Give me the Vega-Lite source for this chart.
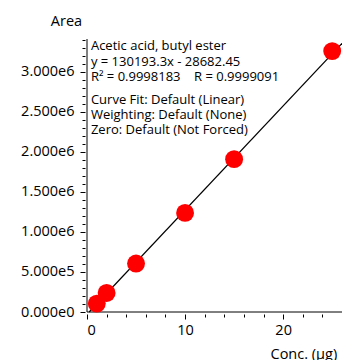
{
  "$schema": "https://vega.github.io/schema/vega-lite/v6.json",
  "width": 255,
  "height": 273,
  "autosize": {"type": "none"},
  "padding": {"left": 87, "top": 39, "right": 0, "bottom": 48},
  "background": "white",
  "config": {
    "view": {"stroke": null},
    "font": "Open Sans",
    "axis": {
      "domain": false,
      "grid": false,
      "offset": 2,
      "tickColor": "black",
      "tickWidth": 1,
      "labelFont": "Open Sans",
      "labelFontSize": 14.5,
      "labelColor": "black",
      "titleFont": "Open Sans",
      "titleFontSize": 14.5,
      "titleFontWeight": "normal",
      "titleColor": "black"
    }
  },
  "datasets": {
    "standards": [
      {"conc": 1, "area": 105000},
      {"conc": 2, "area": 238000},
      {"conc": 5, "area": 605000},
      {"conc": 10, "area": 1238000},
      {"conc": 15, "area": 1909000},
      {"conc": 25, "area": 3259000}
    ],
    "fit": [
      {"conc": 0.2203, "area": 0},
      {"conc": 26, "area": 3356343}
    ]
  },
  "resolve": {"axis": {"x": "independent", "y": "independent"}},
  "layer": [
    {
      "data": {"values": [{}]},
      "mark": {"type": "rule", "color": "black", "strokeWidth": 1},
      "encoding": {
        "x": {
          "datum": 0,
          "type": "quantitative",
          "scale": {"domain": [0, 26], "nice": false, "zero": false},
          "axis": {
            "orient": "bottom",
            "values": [2, 4, 6, 8, 12, 14, 16, 18, 22, 24],
            "tickSize": 3,
            "labels": false,
            "title": null
          }
        }
      }
    },
    {
      "data": {"values": [{}]},
      "mark": {"type": "rule", "color": "black", "strokeWidth": 1},
      "encoding": {
        "y": {
          "datum": 0,
          "type": "quantitative",
          "scale": {"domain": [0, 3410000], "nice": false, "zero": false},
          "axis": {
            "orient": "left",
            "values": [100000, 200000, 300000, 400000, 600000, 700000, 800000, 900000, 1100000, 1200000, 1300000, 1400000, 1600000, 1700000, 1800000, 1900000, 2100000, 2200000, 2300000, 2400000, 2600000, 2700000, 2800000, 2900000, 3100000, 3200000, 3300000, 3400000],
            "tickSize": 3,
            "labels": false,
            "title": null
          }
        }
      }
    },
    {
      "data": {"name": "fit"},
      "mark": {"type": "line", "color": "black", "strokeWidth": 1.2},
      "encoding": {
        "x": {"field": "conc", "type": "quantitative", "axis": null},
        "y": {"field": "area", "type": "quantitative", "axis": null}
      }
    },
    {
      "data": {"name": "standards"},
      "mark": {"type": "point", "shape": "circle", "filled": true, "color": "#ff0000", "opacity": 1, "size": 320},
      "encoding": {
        "x": {
          "field": "conc",
          "type": "quantitative",
          "axis": {
            "orient": "bottom",
            "values": [0, 10, 20],
            "tickSize": 5,
            "labelPadding": 4,
            "title": "Conc. (μg)",
            "titleAlign": "left",
            "titleBaseline": "middle",
            "titleAnchor": null,
            "titleX": 183,
            "titleY": 40
          }
        },
        "y": {
          "field": "area",
          "type": "quantitative",
          "axis": {
            "orient": "left",
            "values": [0, 500000, 1000000, 1500000, 2000000, 2500000, 3000000],
            "tickSize": 5,
            "labelPadding": 6,
            "labelExpr": "replace(format(datum.value, '.3e'), '+', '')",
            "title": "Area",
            "titleAngle": 0,
            "titleAlign": "center",
            "titleBaseline": "middle",
            "titleAnchor": null,
            "titleX": -19,
            "titleY": -18
          }
        }
      }
    },
    {
      "data": {"values": [{"note": ["Acetic acid, butyl ester", "y = 130193.3x - 28682.45", "R² = 0.9998183\u00a0\u00a0\u00a0\u00a0R = 0.9999091"]}]},
      "mark": {"type": "text", "align": "left", "baseline": "middle", "fontSize": 13, "lineHeight": 15.5, "color": "black"},
      "encoding": {
        "text": {"field": "note"},
        "x": {"datum": 0.4, "type": "quantitative", "axis": null},
        "y": {"datum": 3322000, "type": "quantitative", "axis": null}
      }
    },
    {
      "data": {"values": [{"note": ["Curve Fit: Default (Linear)", "Weighting: Default (None)", "Zero: Default (Not Forced)"]}]},
      "mark": {"type": "text", "align": "left", "baseline": "middle", "fontSize": 13, "lineHeight": 15, "color": "black"},
      "encoding": {
        "text": {"field": "note"},
        "x": {"datum": 0.4, "type": "quantitative", "axis": null},
        "y": {"datum": 2648000, "type": "quantitative", "axis": null}
      }
    }
  ]
}
